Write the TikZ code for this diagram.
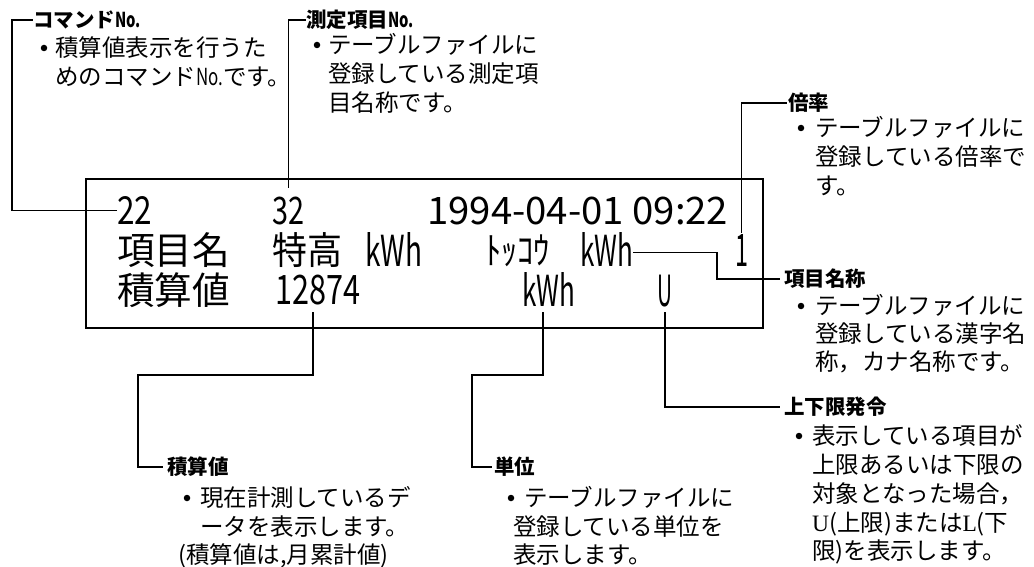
\documentclass[tikz,border=0pt]{standalone}
\usepackage{fontspec}
\setmainfont{Noto Sans CJK JP}
\newfontfamily\serifl{Liberation Serif}
\newcommand\lcdbox[3]{\resizebox*{#1pt}{#2pt}{#3}}
\newcommand\nosign{\scalebox{0.72}[1]{No.}}
\begin{document}
\begin{tikzpicture}[x=1pt,y=-1pt,
  lead/.style={line width=1.3pt},
  dispbox/.style={draw, line width=1.8pt, inner sep=0pt, anchor=north west},
  hd/.style={font=\fontsize{20.5}{21}\selectfont\bfseries, anchor=west, inner sep=0pt, text height=18pt, text depth=2.5pt},
  bd/.style={font=\fontsize{23.5}{29}\selectfont, anchor=west, inner sep=0pt, text height=20.7pt, text depth=2.8pt},
  bul/.style={circle, fill, inner sep=0pt, minimum size=6.5pt},
  lcd/.style={anchor=south west, inner sep=0pt, font=\fontsize{30}{30}\selectfont}]
\useasboundingbox (0,0) rectangle (1034,567);
\fill[white] (0,0) rectangle (1034,567);

% display
\node[dispbox, minimum width=677pt, minimum height=149pt] (disp) at (85,178) {};

% row 1
\node[lcd] (r1a) at (117,225) {\lcdbox{35}{28}{22}};
\node[lcd] (r1b) at (272,225) {\lcdbox{32}{28}{32}};
\node[lcd] (r1c) at (427,225) {\lcdbox{301}{28}{1994-04-01 09:22}};
% row 2
\node[lcd] (r2a) at (117,268) {\lcdbox{113}{35}{項目名}};
\node[lcd] (r2b) at (272,268) {\lcdbox{70}{35}{特高}};
\node[lcd] (r2c) at (365,267) {\lcdbox{57}{34}{kWh}};
\node[lcd] (r2d) at (485,267) {\lcdbox{65}{32}{ﾄｯｺｳ}};
\node[lcd] (r2e) at (580,267) {\lcdbox{53}{34}{kWh}};
\node[lcd] (r2f) at (735,267) {\lcdbox{13}{32}{1}};
% row 3
\node[lcd] (r3a) at (117,308) {\lcdbox{113}{35}{積算値}};
\node[lcd] (r3b) at (275,305) {\lcdbox{85}{30}{12874}};
\node[lcd] (r3c) at (522,307) {\lcdbox{53}{34}{kWh}};
\node[lcd] (r3d) at (657,307) {\lcdbox{15}{32}{U}};

% headings
\node[hd] (hcmd) at (33,20) {コマンド\nosign};
\node[hd] (hsok) at (306,20) {測定項目\nosign};
\node[hd] (hbai) at (788,103) {倍率};
\node[hd] (hkmm) at (784,279) {項目名称};
\node[hd] (hseki) at (167,467) {積算値};
\node[hd] (htan) at (494,467) {単位};
\node[hd] (hjg) at (784,407) {上下限発令};

% leaders
\coordinate (k1) at (12,20);
\draw[lead] (r1a.west) -| (k1) -- (hcmd.west);
\draw[lead] ([yshift=9pt]r1b.north) |- (hsok.west);
\draw[lead] ([yshift=2pt]r2f.north) |- ([xshift=-1pt]hbai.west);
\coordinate (k2) at (717,279);
\draw[lead] ([yshift=-3pt]r2e.east) -| (k2) -- ([xshift=-4pt]hkmm.west);
\coordinate (a3) at (313,312);
\coordinate (k3) at (138,375);
\draw[lead] (a3) |- (k3) |- ([xshift=-4pt]hseki.west);
\coordinate (a4) at (543,312);
\coordinate (k4) at (472,375);
\draw[lead] (a4) |- (k4) |- ([xshift=-2pt]htan.west);
\coordinate (a5) at (665,312);
\draw[lead] (a5) |- ([xshift=-4pt]hjg.west);

% body: command
\node[bul] (bc) at (44,48) {};
\node[bd] (c1) at (55,48) {積算値表示を行うた};
\node[bd] (c2) at (55,77) {めのコマンド\nosign です。};
% body: sokutei
\node[bul] (bs) at (317,45) {};
\node[bd] (s1) at (328,45) {テーブルファイルに};
\node[bd] (s2) at (328,74) {登録している測定項};
\node[bd] (s3) at (328,103) {目名称です。};
% body: bairitsu
\node[bul] (bb) at (801,128) {};
\node[bd] (b1) at (815,128) {テーブルファイルに};
\node[bd] (b2) at (815,157) {登録している倍率で};
\node[bd] (b3) at (815,186) {す。};
% body: koumoku meishou
\node[bul] (bk) at (801,306) {};
\node[bd] (m1) at (815,306) {テーブルファイルに};
\node[bd] (m2) at (815,334) {登録している漢字名};
\node[bd] (m3) at (815,362) {称，カナ名称です。};
% body: sekisanchi
\node[bul] (be) at (187,498) {};
\node[bd] (e1) at (200,498) {現在計測しているデ};
\node[bd] (e2) at (200,527) {ータを表示します。};
\node[bd] (e3) at (178,555) {(積算値は,月累計値)};
% body: tani
\node[bul] (bt) at (511,498) {};
\node[bd] (t1) at (524,498) {テーブルファイルに};
\node[bd] (t2) at (513,527) {登録している単位を};
\node[bd] (t3) at (513,555) {表示します。};
% body: jouge
\node[bul] (bj) at (799,436) {};
\node[bd] (j1) at (812,436) {表示している項目が};
\node[bd] (j2) at (812,465) {上限あるいは下限の};
\node[bd] (j3) at (812,494) {対象となった場合，};
\node[bd] (j4) at (812,523) {{\serifl U}(上限)または{\serifl L}(下};
\node[bd] (j5) at (812,551) {限)を表示します。};
\end{tikzpicture}
\end{document}
